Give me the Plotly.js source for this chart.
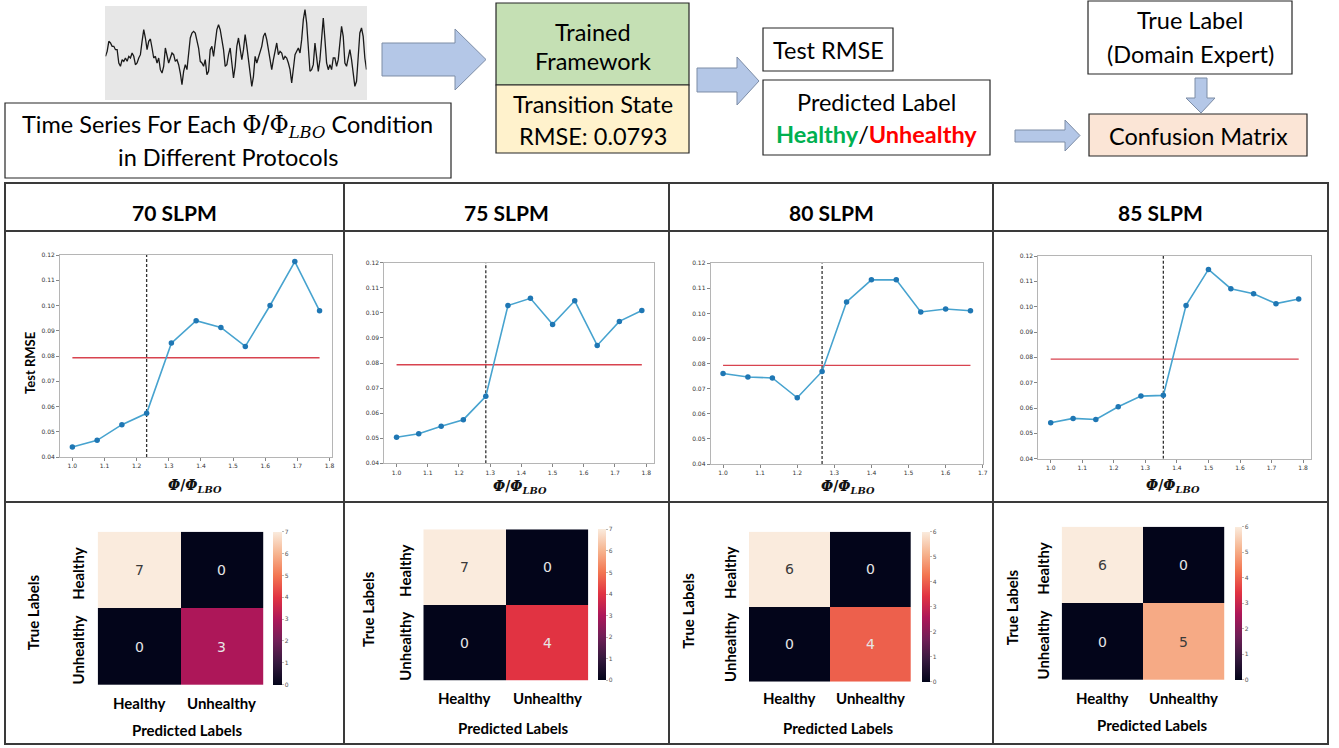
<!DOCTYPE html>
<html><head><meta charset="utf-8">
<script src="https://cdn.plot.ly/plotly-3.0.1.min.js"></script>
<style>html,body{margin:0;padding:0;background:#fff}#chart{width:1339px;height:748px}</style>
</head><body><div id="chart"></div>
<script>
// ---------------- DATA ----------------
const protocols = ['70 SLPM', '75 SLPM', '80 SLPM', '85 SLPM'];
const phi70 = [1.0, 1.077, 1.154, 1.231, 1.308, 1.385, 1.462, 1.538, 1.615, 1.692, 1.769];
const rmse70 = [0.0440, 0.0466, 0.0528, 0.0573, 0.0851, 0.0940, 0.0913, 0.0838, 0.1000, 0.1174, 0.0979];
const phi75 = [1.0, 1.071, 1.143, 1.214, 1.286, 1.357, 1.429, 1.5, 1.571, 1.643, 1.714, 1.786];
const rmse75 = [0.0504, 0.0518, 0.0548, 0.0574, 0.0667, 0.1029, 0.1058, 0.0954, 0.1048, 0.0870, 0.0966, 0.1009];
const phi80 = [1.0, 1.067, 1.133, 1.2, 1.267, 1.333, 1.4, 1.467, 1.533, 1.6, 1.667];
const rmse80 = [0.0761, 0.0747, 0.0743, 0.0664, 0.0769, 0.1046, 0.1134, 0.1134, 0.1006, 0.1018, 0.1011];
const phi85 = [1.0, 1.071, 1.143, 1.214, 1.286, 1.357, 1.429, 1.5, 1.571, 1.643, 1.714, 1.786];
const rmse85 = [0.0542, 0.0559, 0.0555, 0.0605, 0.0647, 0.0650, 0.1005, 0.1147, 0.1071, 0.1051, 0.1012, 0.1030];
const transitionRMSE = 0.0793;
const lboLine = [1.231, 1.286, 1.267, 1.357];
const yTicks = [0.04, 0.05, 0.06, 0.07, 0.08, 0.09, 0.10, 0.11, 0.12];

const cmLabels = ['Healthy', 'Unhealthy'];
const cm70 = [[7, 0], [0, 3]];
const cm75 = [[7, 0], [0, 4]];
const cm80 = [[6, 0], [0, 4]];
const cm85 = [[6, 0], [0, 5]];
const cmMax = [7, 7, 6, 6];

// example time series (arbitrary units)
const signal = [130,145,175,170,160,160,150,150,110,100,120,115,125,115,130,125,140,130,105,110,125,135,175,210,185,150,175,182,155,125,130,110,125,90,80,100,155,135,110,125,140,135,115,120,105,80,45,85,105,90,135,185,200,205,200,180,155,115,110,100,120,75,85,150,160,130,175,210,225,210,180,150,100,105,135,155,110,65,100,160,185,150,120,150,195,160,125,80,40,70,130,110,125,140,160,190,200,180,150,110,90,120,150,170,135,145,140,120,130,125,110,90,50,90,135,145,155,140,180,240,270,230,140,85,90,105,170,115,85,120,200,245,180,110,90,105,90,125,125,100,120,170,220,190,110,100,130,150,120,85,40,55,130,200,215,190,125,90];

// ---------------- LAYOUT HELPERS ----------------
const W = 1339, H = 748;
const X = p => p / W;
const Y = p => 1 - p / H;
const FONT = 'Lato, "Open Sans", sans-serif';

const phis = [phi70, phi75, phi80, phi85];
const rmses = [rmse70, rmse75, rmse80, rmse85];
const cms = [cm70, cm75, cm80, cm85];

const linePanels = [
  {x0: 60, x1: 332, y0: 255, y1: 457, xr: [0.9615, 1.8077], tx: 195, ty: 486},
  {x0: 384.3, x1: 654, y0: 262.7, y1: 463.3, xr: [0.9607, 1.8250], tx: 520, ty: 487},
  {x0: 710.7, x1: 982.7, y0: 263.3, y1: 464, xr: [0.9667, 1.7000], tx: 848, ty: 487},
  {x0: 1038.3, x1: 1311, y0: 256, y1: 458.7, xr: [0.9607, 1.8250], tx: 1173, ty: 486}
];
const heatPanels = [
  {x0: 97.7, x1: 263.3, y0: 531.7, y1: 685, cb0: 273.3, cb1: 282.7, rl: 78, tl: 33, cy: 703, py: 730, pxc: 187},
  {x0: 423.3, x1: 588.3, y0: 529.3, y1: 680.7, cb0: 598.3, cb1: 606.7, rl: 405, tl: 368, cy: 698, py: 728, pxc: 513},
  {x0: 749, x1: 910.7, y0: 531.7, y1: 681.7, cb0: 921.7, cb1: 929.3, rl: 730, tl: 688, cy: 698, py: 728, pxc: 838},
  {x0: 1061.7, x1: 1224.3, y0: 526.7, y1: 680, cb0: 1235, cb1: 1242.3, rl: 1043, tl: 1012, cy: 698, py: 725, pxc: 1152}
];
const colCenters = [174.5, 506.5, 831, 1160.5];

const rocket = [
  [0, '#03051a'], [1/7, '#35193e'], [2/7, '#701f57'], [3/7, '#ad1759'],
  [4/7, '#e13342'], [5/7, '#f37651'], [6/7, '#f6b48f'], [1, '#faebdd']
];

const traces = [];
const layout = {
  width: W, height: H,
  margin: {l: 0, r: 0, t: 0, b: 0},
  paper_bgcolor: '#ffffff', plot_bgcolor: 'rgba(0,0,0,0)',
  showlegend: false,
  font: {family: FONT, color: '#000'},
  shapes: [], annotations: []
};

function ann(text, x, y, size, opts) {
  return Object.assign({
    text: text, x: X(x), y: Y(y), xref: 'paper', yref: 'paper',
    showarrow: false, xanchor: 'center', yanchor: 'middle',
    font: {family: FONT, size: size, color: '#000'}
  }, opts || {});
}
function rect(x0, y0, x1, y1, fill, lineColor, lw, layer) {
  return {type: 'rect', xref: 'paper', yref: 'paper', x0: X(x0), x1: X(x1), y0: Y(y1), y1: Y(y0),
    fillcolor: fill || 'rgba(0,0,0,0)', line: {color: lineColor || '#262626', width: lw == null ? 1.2 : lw}, layer: layer || 'below'};
}
function line(x0, y0, x1, y1, color, w) {
  return {type: 'line', xref: 'paper', yref: 'paper', x0: X(x0), x1: X(x1), y0: Y(y0), y1: Y(y1),
    line: {color: color, width: w}, layer: 'above'};
}
function poly(pts) {
  const d = pts.map((p, i) => (i ? 'L' : 'M') + X(p[0]).toFixed(5) + ',' + Y(p[1]).toFixed(5)).join(' ') + ' Z';
  return {type: 'path', xref: 'paper', yref: 'paper', path: d, fillcolor: '#b4c7e7',
    line: {color: '#7d8da6', width: 1}, layer: 'below'};
}
function rightArrow(x0, x1, xh, sy0, sy1, hy0, hy1) {
  const ym = (hy0 + hy1) / 2;
  return poly([[x0, sy0], [xh, sy0], [xh, hy0], [x1, ym], [xh, hy1], [xh, sy1], [x0, sy1]]);
}

// ---------------- TOP DIAGRAM ----------------
layout.shapes.push(rect(105, 6, 367, 100, '#e7e7e7', 'rgba(0,0,0,0)', 0));
traces.push({
  type: 'scatter', mode: 'lines', x: signal.map((v, i) => i), y: signal,
  xaxis: 'x9', yaxis: 'y9', line: {color: '#1a1a1a', width: 1.3}, hoverinfo: 'skip'
});
layout.xaxis9 = {domain: [X(105.5), X(366.5)], range: [0, signal.length - 1], visible: false, fixedrange: true, anchor: 'y9'};
layout.yaxis9 = {domain: [Y(87), Y(9)], range: [38, 272], visible: false, fixedrange: true, anchor: 'x9'};

layout.shapes.push(rect(5, 103, 451, 178, '#ffffff'));
layout.shapes.push(rect(496, 3, 689, 85, '#c5e0b4'));
layout.shapes.push(rect(496, 85, 689, 153, '#fff2cc'));
layout.shapes.push(rect(763, 28, 893, 71, '#ffffff'));
layout.shapes.push(rect(763, 80, 990, 155, '#ffffff'));
layout.shapes.push(rect(1088, 1, 1292, 74, '#ffffff'));
layout.shapes.push(rect(1089, 114, 1307, 156, '#fbe5d6'));

layout.shapes.push(rightArrow(382, 486, 455, 43, 76, 29, 90));
layout.shapes.push(rightArrow(697, 759, 737, 68, 92, 57, 105));
layout.shapes.push(rightArrow(1015, 1080, 1065, 130, 142, 120, 151));
layout.shapes.push(poly([[1195, 78], [1207, 78], [1207, 98], [1215, 98], [1201, 113], [1186, 98], [1195, 98]]));

const TF = 23.5;
const phiLBO = 'Φ/Φ<sub><i>LBO</i></sub>';
layout.annotations.push(ann('Time Series For Each <span style="font-family:\'DejaVu Serif\',serif">' + phiLBO + '</span> Condition', 228, 126, TF));
layout.annotations.push(ann('in Different Protocols', 228, 157, TF));
layout.annotations.push(ann('Trained', 592.5, 32, TF));
layout.annotations.push(ann('Framework', 592.5, 61, TF));
layout.annotations.push(ann('Transition State', 592.5, 104, TF));
layout.annotations.push(ann('RMSE: ' + transitionRMSE, 592.5, 136, TF));
layout.annotations.push(ann('Test RMSE', 828, 50, TF));
layout.annotations.push(ann('Predicted Label', 876.5, 102, TF));
layout.annotations.push(ann('<b><span style="color:#00b050">Healthy</span></b>/<b><span style="color:#ff0000">Unhealthy</span></b>', 876.5, 134, TF));
layout.annotations.push(ann('True Label', 1190, 20, TF));
layout.annotations.push(ann('(Domain Expert)', 1190, 54, TF));
layout.annotations.push(ann('Confusion Matrix', 1198, 136, TF));

// ---------------- TABLE GRID ----------------
const gridC = '#3a3a3a';
layout.shapes.push(Object.assign(rect(5, 183, 1328, 744, 'rgba(0,0,0,0)', gridC, 2), {layer: 'above'}));
layout.shapes.push(line(5, 231, 1328, 231, gridC, 2));
layout.shapes.push(line(5, 502, 1328, 502, gridC, 2));
[344, 669, 993].forEach(xv => layout.shapes.push(line(xv, 183, xv, 744, gridC, 2)));
protocols.forEach((p, i) => layout.annotations.push(ann('<b>' + p + '</b>', colCenters[i], 212, 21)));

// ---------------- LINE PLOTS ----------------
linePanels.forEach((lp, i) => {
  const n = i + 1;
  const xa = 'x' + n, ya = 'y' + n;
  const ph = phis[i];
  traces.push({type: 'scatter', mode: 'lines', x: [ph[0], ph[ph.length - 1]], y: [transitionRMSE, transitionRMSE],
    xaxis: xa, yaxis: ya, line: {color: '#d8434f', width: 1.4}, hoverinfo: 'skip'});
  traces.push({type: 'scatter', mode: 'lines', x: [lboLine[i], lboLine[i]], y: [yTicks[0], yTicks[yTicks.length - 1]],
    xaxis: xa, yaxis: ya, line: {color: '#333333', width: 1.3, dash: '3px,2px'}, hoverinfo: 'skip'});
  traces.push({type: 'scatter', mode: 'lines+markers', x: ph, y: rmses[i],
    xaxis: xa, yaxis: ya, line: {color: '#47a3cf', width: 1.6},
    marker: {color: '#1f77b4', size: 5.5}});
  const axCommon = {showgrid: false, zeroline: false, showline: true, mirror: true, linecolor: '#b5b5b5', linewidth: 1,
    ticks: 'outside', ticklen: 3, tickwidth: 0.8, tickcolor: '#666', fixedrange: true,
    tickfont: {family: 'DejaVu Sans, sans-serif', size: 6, color: '#333'}};
  layout['xaxis' + n] = Object.assign({}, axCommon, {domain: [X(lp.x0), X(lp.x1)], range: lp.xr, dtick: 0.1, tick0: 1.0,
    tickformat: '.1f', anchor: ya});
  layout['yaxis' + n] = Object.assign({}, axCommon, {domain: [Y(lp.y1), Y(lp.y0)], range: [yTicks[0], yTicks[yTicks.length - 1]],
    tickvals: yTicks, tickformat: '.2f', anchor: xa});
  layout.annotations.push(ann('<b><i>Φ</i>/<i>Φ</i><sub><i>LBO</i></sub></b>', lp.tx, lp.ty, 14,
    {font: {family: '"DejaVu Serif", serif', size: 14, color: '#111'}}));
});
layout.annotations.push(ann('<b>Test RMSE</b>', 30, 363, 13, {textangle: -90}));

// ---------------- CONFUSION MATRICES ----------------
heatPanels.forEach((hp, i) => {
  const n = i + 5;
  const xa = 'x' + n, ya = 'y' + n;
  traces.push({
    type: 'heatmap', z: cms[i], x: cmLabels, y: cmLabels, xaxis: xa, yaxis: ya,
    colorscale: rocket, zmin: 0, zmax: cmMax[i], hoverinfo: 'skip',
    colorbar: {x: X(hp.cb0), xanchor: 'left', xref: 'paper', y: Y(hp.y0), yanchor: 'top', yref: 'paper',
      len: hp.y1 - hp.y0, lenmode: 'pixels', thickness: hp.cb1 - hp.cb0, thicknessmode: 'pixels',
      xpad: 0, ypad: 0, outlinewidth: 0, dtick: 1, tick0: 0, ticks: 'outside', ticklen: 2, tickwidth: 0.6,
      tickcolor: '#888', tickfont: {family: 'DejaVu Sans, sans-serif', size: 6, color: '#555'}}
  });
  layout['xaxis' + n] = {domain: [X(hp.x0), X(hp.x1)], anchor: ya, showticklabels: false, ticks: '', showgrid: false,
    zeroline: false, showline: false, fixedrange: true};
  layout['yaxis' + n] = {domain: [Y(hp.y1), Y(hp.y0)], anchor: xa, autorange: 'reversed', showticklabels: false, ticks: '',
    showgrid: false, zeroline: false, showline: false, fixedrange: true};
  cms[i].forEach((row, r) => row.forEach((v, c) => {
    layout.annotations.push({text: String(v), x: cmLabels[c], y: cmLabels[r], xref: xa, yref: ya, showarrow: false,
      font: {family: 'DejaVu Sans, sans-serif', size: 14, color: v / cmMax[i] > 0.75 ? '#3a3a3a' : '#e6e6e6'}});
  }));
  const rowH = (hp.y1 - hp.y0) / 2, colW = (hp.x1 - hp.x0) / 2;
  layout.annotations.push(ann('<b>Healthy</b>', hp.rl, hp.y0 + rowH * 0.55, 15, {textangle: -90}));
  layout.annotations.push(ann('<b>Unhealthy</b>', hp.rl, hp.y0 + rowH * 1.55, 15, {textangle: -90}));
  layout.annotations.push(ann('<b>True Labels</b>', hp.tl, (hp.y0 + hp.y1) / 2 + 4, 15, {textangle: -90}));
  layout.annotations.push(ann('<b>Healthy</b>', hp.x0 + colW * 0.5, hp.cy, 15));
  layout.annotations.push(ann('<b>Unhealthy</b>', hp.x0 + colW * 1.5, hp.cy, 15));
  layout.annotations.push(ann('<b>Predicted Labels</b>', hp.pxc, hp.py, 15));
});

Plotly.newPlot('chart', traces, layout, {displayModeBar: false, staticPlot: true});
</script>
</body></html>
